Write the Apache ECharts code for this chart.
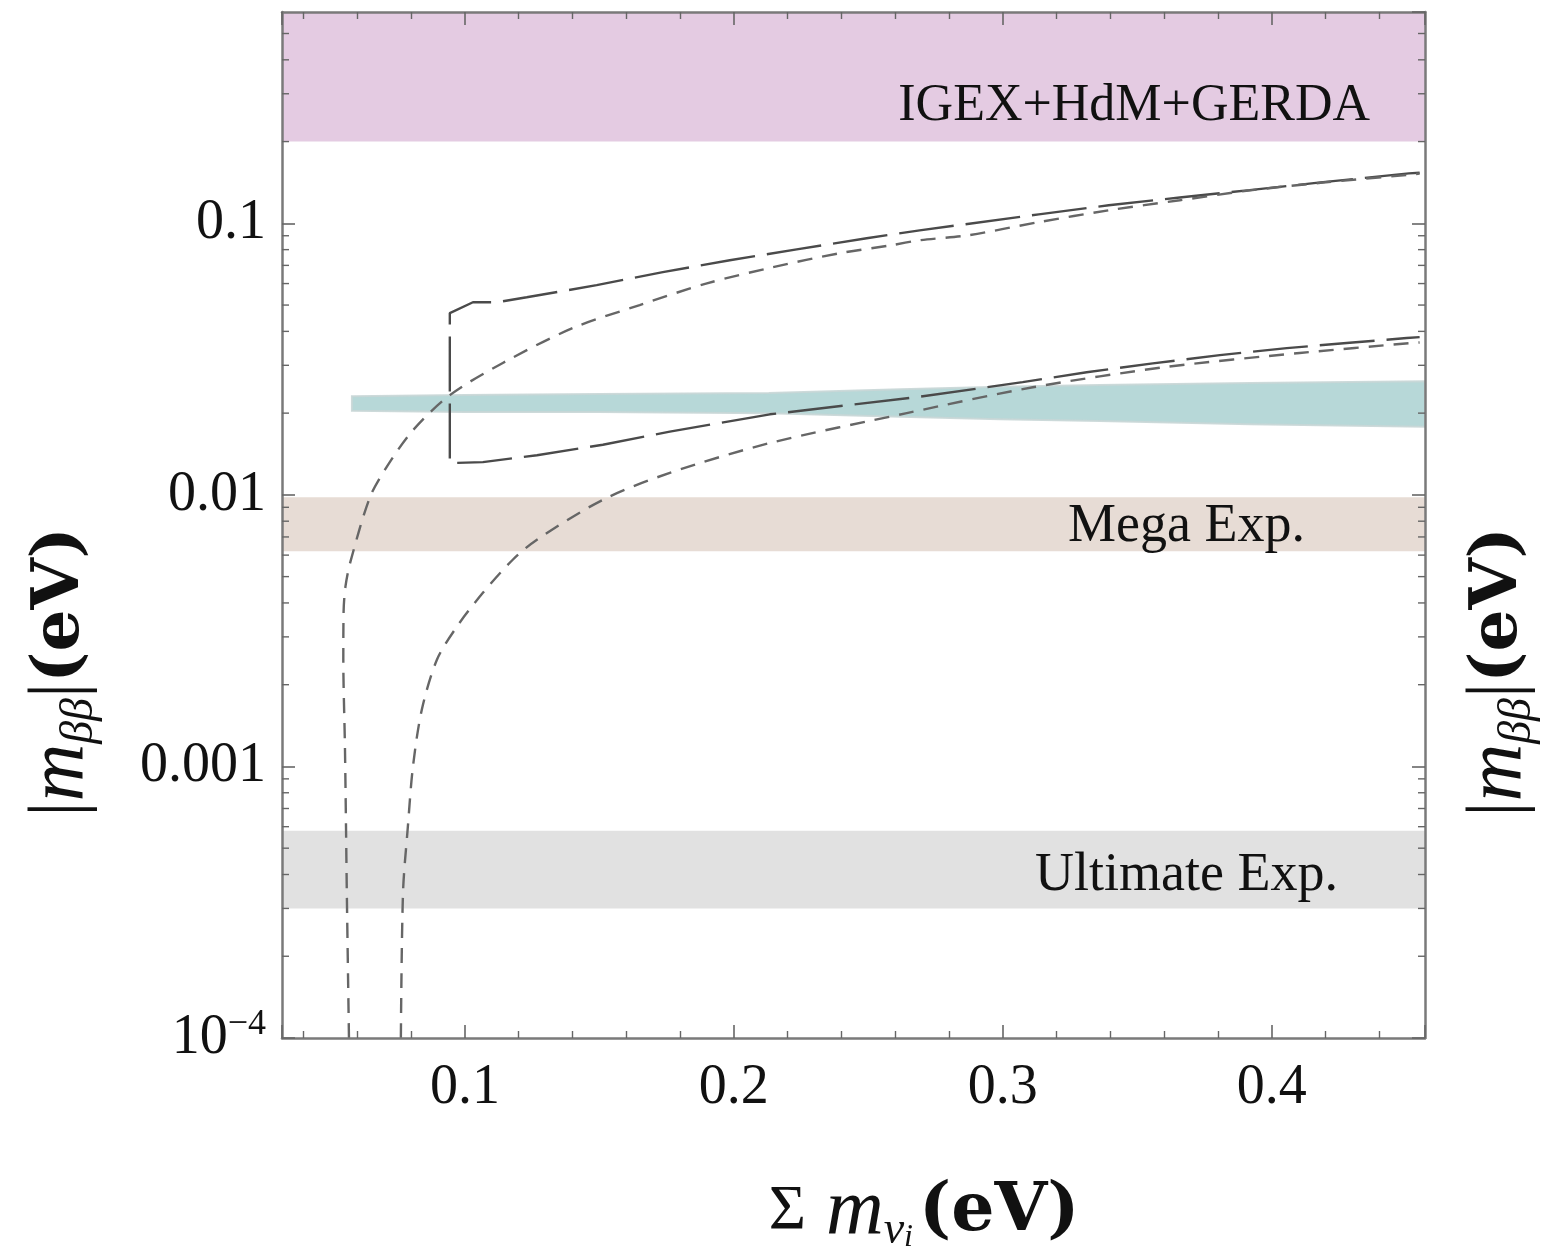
<!DOCTYPE html>
<html><head><meta charset="utf-8">
<script src="https://cdn.jsdelivr.net/npm/echarts@6/dist/echarts.min.js"></script>
<style>html,body{margin:0;padding:0;background:#fff}#c{width:1544px;height:1256px}</style>
</head><body><div id="c"></div>
<script>
// ---- axis ranges and ticks ----
const xRange = [0.032, 0.457];
const yRange = [1e-4, 0.6];
const yMajorTicks = [1e-4, 0.001, 0.01, 0.1];
const yTickLabels = ['10^-4', '0.001', '0.01', '0.1'];
const yMinorTicks = [2e-4,3e-4,4e-4,5e-4,6e-4,7e-4,8e-4,9e-4,
  0.002,0.003,0.004,0.005,0.006,0.007,0.008,0.009,
  0.02,0.03,0.04,0.05,0.06,0.07,0.08,0.09,
  0.2,0.3,0.4,0.5];

// ---- experimental sensitivity bands ----
const bandNames = ['IGEX+HdM+GERDA', 'Mega Exp.', 'Ultimate Exp.'];
const bandLow  = [0.2, 0.0062, 0.0003];
const bandHigh = [0.6, 0.0098, 0.00058];
const bandColors = ['#e4cbe2', '#e7dcd5', '#e1e1e1'];

// ---- teal band ----
const tealX    = [0.058, 0.100, 0.150, 0.213, 0.262, 0.299, 0.336, 0.392, 0.457];
const tealLow  = [0.0204, 0.0202, 0.0202, 0.0200, 0.0194, 0.0190, 0.0187, 0.0182, 0.0178];
const tealHigh = [0.0231, 0.0233, 0.0235, 0.0237, 0.0245, 0.0250, 0.0254, 0.0258, 0.0262];

// ---- long-dashed closed curve ----
const ihX = [0.455,0.451,0.4182,0.3918,0.3658,0.3394,0.3134,0.2691,0.2494,0.2234,0.1985,0.1736,0.149,0.123,0.1119,0.103,0.0944,
             0.0944,0.1067,0.1268,0.1513,0.1762,0.2134,0.268,0.3074,0.3312,0.3558,0.3807,0.4056,0.4301,0.4502,0.455];
const ihY = [0.1535,0.1527,0.1415,0.1325,0.1245,0.1165,0.1079,0.0942,0.0881,0.0802,0.0731,0.0661,0.0592,0.0534,0.0512,0.0512,0.0467,
             0.0131,0.0132,0.0140,0.0153,0.0171,0.0198,0.0229,0.0260,0.0283,0.0305,0.0327,0.0347,0.0364,0.0378,0.0381];

// ---- short-dashed curves ----
const nhUpX = [0.0569,0.0561,0.0558,0.0554,0.0548,0.0549,0.0556,0.0575,0.0647,0.0710,0.0807,0.0944,0.1141,0.140,0.165,0.190,0.2145,0.2394,0.2584,0.2691,0.287,0.3134,0.3394,0.3658,0.392,0.4182,0.451,0.455];
const nhUpY = [1e-4,3.44e-4,6.0e-4,0.00119,0.00247,0.0037,0.0046,0.0057,0.0098,0.0127,0.0173,0.0233,0.0306,0.0411,0.050,0.0601,0.0689,0.0776,0.083,0.0866,0.0903,0.101,0.1117,0.1216,0.1322,0.141,0.151,0.1525];
const nhLoX = [0.0762,0.0770,0.0788,0.0807,0.0840,0.0896,0.0970,0.1067,0.1178,0.1268,0.1513,0.1762,0.2134,0.2643,0.3112,0.361,0.4104,0.4513,0.455];
const nhLoY = [1e-4,3.44e-4,6.0e-4,0.001,0.00162,0.00247,0.00327,0.00436,0.00577,0.00684,0.00959,0.01205,0.01552,0.0200,0.0249,0.0296,0.0333,0.0362,0.0364];

const zip = (a, b) => a.map((v, i) => [v, b[i]]);
const SERIF = 'Liberation Serif';
const axisColor = '#7a7a7a';

const chart = echarts.init(document.getElementById('c'), null, {renderer: 'canvas'});

function yLabel(v) {
  for (let i = 0; i < yMajorTicks.length; i++) {
    if (Math.abs(Math.log10(v) - Math.log10(yMajorTicks[i])) < 0.01) {
      const t = yTickLabels[i];
      if (t.indexOf('^') >= 0) { const p = t.split('^'); return '{n|' + p[0] + '}{s|' + p[1].replace('-', '\u2212') + '}'; }
      return t;
    }
  }
  return '';
}

const xAxisCommon = {
  type: 'value', min: xRange[0], max: xRange[1], z: 10,
  axisLine: {show: true, onZero: false, lineStyle: {color: axisColor, width: 2.5}},
  axisTick: {show: true, inside: true, length: 13, lineStyle: {color: '#666', width: 1.6}},
  minorTick: {show: true, splitNumber: 5, length: 7, lineStyle: {color: '#666', width: 1.4}},
  splitLine: {show: false}, minorSplitLine: {show: false}
};
const yAxisCommon = {
  type: 'log', logBase: 10, min: yRange[0], max: yRange[1], z: 10,
  axisLine: {show: true, onZero: false, lineStyle: {color: axisColor, width: 2.5}},
  axisTick: {show: true, inside: true, length: 13, lineStyle: {color: '#666', width: 1.6}},
  splitLine: {show: false}
};

const titleY = {
  text: '{bar||}{m|m}{sub|\u03b2\u03b2}{bar||}{ev|(eV)}',
  rich: {
    bar: {fontFamily: SERIF, fontSize: 76, lineHeight: 84, fill: '#111'},
    m: {fontFamily: SERIF, fontStyle: 'italic', fontSize: 80, lineHeight: 84, fill: '#111'},
    sub: {fontFamily: SERIF, fontStyle: 'italic', fontSize: 46, lineHeight: 40, verticalAlign: 'bottom', fill: '#111'},
    ev: {fontFamily: 'DejaVu Serif', fontWeight: 'bold', fontSize: 66, lineHeight: 84, fill: '#111'}
  },
  align: 'center', verticalAlign: 'middle'
};

const option = {
  backgroundColor: '#fff',
  animation: false,
  grid: {left: 282, right: 119, top: 12, bottom: 218, containLabel: false, outerBoundsMode: 'none'},
  xAxis: [
    Object.assign({}, xAxisCommon, {position: 'bottom',
      axisLabel: {show: true, showMinLabel: false, showMaxLabel: false, margin: 22,
        fontFamily: SERIF, fontSize: 56, color: '#111'}}),
    Object.assign({}, xAxisCommon, {position: 'top', axisLabel: {show: false}})
  ],
  yAxis: [
    Object.assign({}, yAxisCommon, {position: 'left',
      axisLabel: {show: true, showMinLabel: true, showMaxLabel: false, margin: 16,
        fontFamily: SERIF, fontSize: 56, color: '#111', formatter: yLabel,
        rich: {n: {fontFamily: SERIF, fontSize: 56, lineHeight: 62, color: '#111'},
               s: {fontFamily: SERIF, fontSize: 36, lineHeight: 30, verticalAlign: 'top', color: '#111'}}}}),
    Object.assign({}, yAxisCommon, {position: 'right', axisLabel: {show: false}})
  ],
  graphic: [
    {type: 'text', x: 61, y: 672, rotation: Math.PI / 2, style: titleY, z: 20},
    {type: 'text', x: 1499, y: 672, rotation: Math.PI / 2, style: titleY, z: 20},
    {type: 'text', x: 924, y: 1212, z: 20, style: {
      text: '{sig|\u03a3}{m| m}{sub|\u03bd}{ss|i}{ev|(eV)}',
      rich: {
        sig: {fontFamily: SERIF, fontSize: 64, lineHeight: 84, fill: '#111'},
        m: {fontFamily: SERIF, fontStyle: 'italic', fontSize: 80, lineHeight: 84, fill: '#111'},
        sub: {fontFamily: SERIF, fontStyle: 'italic', fontSize: 46, lineHeight: 40, verticalAlign: 'bottom', fill: '#111'},
        ss: {fontFamily: SERIF, fontStyle: 'italic', fontSize: 32, lineHeight: 20, verticalAlign: 'bottom', padding: [0, 6, 0, 0], fill: '#111'},
        ev: {fontFamily: 'DejaVu Serif', fontWeight: 'bold', fontSize: 68, lineHeight: 84, fill: '#111'}
      },
      align: 'center', verticalAlign: 'middle'}}
  ],
  series: [
    {
      name: 'bands', type: 'line', data: [], z: 1, silent: true,
      markArea: {
        silent: true,
        data: bandNames.map((n, i) => [
          {name: n, yAxis: bandLow[i], itemStyle: {color: bandColors[i]},
           label: {show: true, position: 'insideRight',
             distance: [55, 120, 87][i], offset: [0, [30, 3, 6][i]],
             fontFamily: SERIF, fontSize: [52, 54, 54][i], color: '#111'}},
          {yAxis: bandHigh[i]}
        ])
      }
    },
    {
      name: 'teal', type: 'custom', z: 2, silent: true, clip: true,
      data: [[tealX[0], tealLow[0]]],
      renderItem: function (params, api) {
        const pts = [];
        for (let i = 0; i < tealX.length; i++) pts.push(api.coord([tealX[i], tealHigh[i]]));
        for (let i = tealX.length - 1; i >= 0; i--) pts.push(api.coord([tealX[i], tealLow[i]]));
        return {type: 'polygon', shape: {points: pts},
          style: {fill: '#b7d8d8', stroke: 'rgba(200,214,214,0.9)', lineWidth: 2}};
      }
    },
    {
      name: 'closed', type: 'line', z: 3, data: zip(ihX, ihY), showSymbol: false, symbol: 'none', silent: true,
      lineStyle: {color: '#4a4a4a', width: 2.4, type: [55, 12]}
    },
    {
      name: 'upper', type: 'line', z: 3, data: zip(nhUpX, nhUpY), showSymbol: false, symbol: 'none', silent: true,
      smooth: 0.3,
      lineStyle: {color: '#666', width: 2.4, type: [15, 10]}
    },
    {
      name: 'lower', type: 'line', z: 3, data: zip(nhLoX, nhLoY), showSymbol: false, symbol: 'none', silent: true,
      smooth: 0.3,
      lineStyle: {color: '#666', width: 2.4, type: [15, 10]}
    },
    {
      name: 'yminor', type: 'custom', z: 11, silent: true, clip: false,
      data: yMinorTicks.map(v => [xRange[0], v]),
      renderItem: function (params, api) {
        const y = api.coord([xRange[0], api.value(1)])[1];
        const cs = params.coordSys;
        const st = {stroke: '#666', lineWidth: 1.4};
        return {type: 'group', children: [
          {type: 'line', shape: {x1: cs.x, y1: y, x2: cs.x + 7, y2: y}, style: st},
          {type: 'line', shape: {x1: cs.x + cs.width, y1: y, x2: cs.x + cs.width - 7, y2: y}, style: st}
        ]};
      }
    }
  ]
};
chart.setOption(option);
</script>
</body></html>
